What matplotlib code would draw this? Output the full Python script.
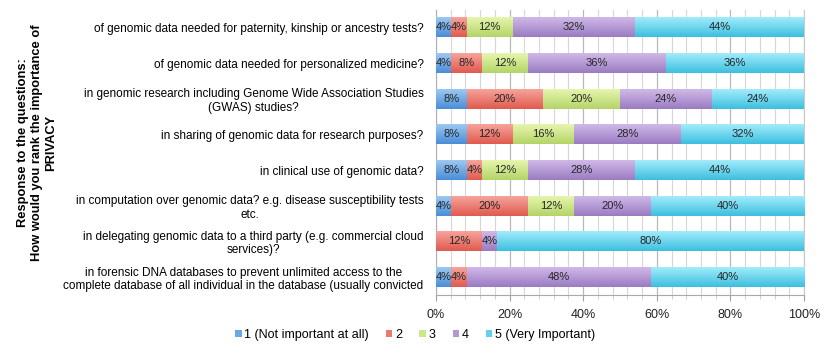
import matplotlib
matplotlib.use("Agg")
import matplotlib.pyplot as plt
import numpy as np
from matplotlib.colors import LinearSegmentedColormap
from matplotlib.patches import Patch

plt.rcParams['font.family'] = ['Liberation Sans', 'DejaVu Sans']

categories = [
    "of genomic data needed for paternity, kinship or ancestry tests?",
    "of genomic data needed for personalized medicine?",
    "in genomic research including Genome Wide Association Studies\n(GWAS) studies?",
    "in sharing of genomic data for research purposes?",
    "in clinical use of genomic data?",
    "in computation over genomic data? e.g. disease susceptibility tests\netc.",
    "in delegating genomic data to a third party (e.g. commercial cloud\nservices)?",
    "in forensic DNA databases to prevent unlimited access to the\ncomplete database of all individual in the database (usually convicted",
]
series_names = ["1 (Not important at all)", "2", "3", "4", "5 (Very Important)"]
s1 = [4, 4, 8, 8, 8, 4, 0, 4]
s2 = [4, 8, 20, 12, 4, 20, 12, 4]
s3 = [12, 12, 20, 16, 12, 12, 0, 0]
s4 = [32, 36, 24, 28, 28, 20, 4, 48]
s5 = [44, 36, 24, 32, 44, 40, 80, 40]
xticks = [0, 0.2, 0.4, 0.6, 0.8, 1.0]
xticklabels = ["0%", "20%", "40%", "60%", "80%", "100%"]

top_cols = ["#9cc8f0", "#f6a49c", "#e6f6ae", "#d0b9e8", "#a2ecfb"]
bot_cols = ["#4a8ed8", "#e05a4f", "#b4d468", "#9a7bc2", "#3dbfdf"]
mid_cols = ["#6aa8e4", "#ea7a70", "#cce68a", "#b398d4", "#62d2ec"]

series = np.array([s1, s2, s3, s4, s5], dtype=float)
totals = series.sum(axis=0)
frac = series / totals

fig = plt.figure(figsize=(8.30, 3.49), dpi=100)
ax = fig.add_axes([436/830, 1 - 295/349, (804-436)/830, (295-9.5)/349])

y = np.arange(len(categories))
left = np.zeros(len(categories))
grad = np.linspace(0, 1, 64).reshape(-1, 1)
for i in range(5):
    bars = ax.barh(y, frac[i], left=left, height=0.56, color=mid_cols[i],
                   label=series_names[i], zorder=2, linewidth=0)
    cmap = LinearSegmentedColormap.from_list("g%d" % i, [top_cols[i], bot_cols[i]])
    for j, b in enumerate(bars):
        if frac[i][j] <= 0:
            continue
        x0, y0 = b.get_x(), b.get_y()
        w, h = b.get_width(), b.get_height()
        im = ax.imshow(grad, cmap=cmap, aspect='auto', extent=(x0, x0 + w, y0 + h, y0),
                       zorder=3, interpolation='bilinear')
        im.set_clip_path(b)
        ax.text(x0 + w / 2, y[j], "%d%%" % series[i][j], ha='center', va='center',
                fontsize=8, color='#262626', zorder=4)
    left += frac[i]

ax.set_xlim(0, 1)
ax.set_ylim(len(categories) - 0.5, -0.5)
ax.set_yticks(y)
ax.set_yticklabels(categories, fontsize=8.5)
for t in ax.get_yticklabels():
    t.set_multialignment('center')
    t.set_linespacing(1.15)
ax.tick_params(axis='y', length=0, pad=9)
ax.set_xticks(xticks)
ax.set_xticklabels(xticklabels, fontsize=9)
ax.set_xticks(np.arange(0, 1.0001, 0.04), minor=True)
ax.tick_params(axis='x', which='major', length=4, color='#a0a0a0', pad=6, labelcolor='#222222')
ax.tick_params(axis='x', which='minor', length=3, color='#c8c8c8')
ax.grid(axis='x', which='major', color='#b8b8b8', linewidth=0.9, zorder=0)
ax.grid(axis='x', which='minor', color='#d6d6d6', linewidth=0.8, zorder=0)
ax.set_axisbelow(True)
ax.spines['top'].set_visible(False)
ax.spines['left'].set_color('#b0b0b0')
ax.spines['right'].set_color('#c8c8c8')
ax.spines['bottom'].set_color('#a8a8a8')

fig.text(37/830, 1 - 143/349,
         "Response to the questions:\nHow would you rank the importance of\nPRIVACY",
         rotation=90, ha='center', va='center', multialignment='center',
         fontsize=9.3, fontweight='bold', linespacing=1.25)

handles = [Patch(facecolor=mid_cols[i], edgecolor='none') for i in range(5)]
fig.legend(handles, series_names, loc='center', bbox_to_anchor=(0.5, 1 - 335/349),
           ncol=5, frameon=False, fontsize=9, handlelength=0.5, handleheight=0.5,
           handletextpad=0.2, columnspacing=1.4)

fig.savefig("out.png", dpi=100)
